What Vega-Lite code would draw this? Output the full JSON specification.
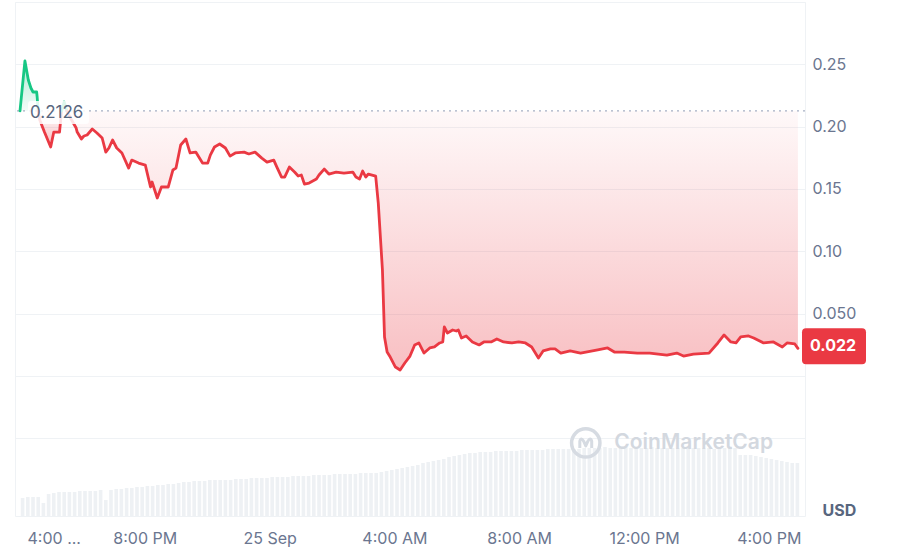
{
  "$schema": "https://vega.github.io/schema/vega-lite/v6.json",
  "width": 790,
  "height": 514,
  "autosize": "none",
  "padding": {"left": 15, "top": 2, "right": 102, "bottom": 34},
  "background": "white",
  "config": {"view": {"stroke": "#eff2f5"}, "font": "Inter"},
  "datasets": {
    "price": [
      {"m": 0, "p": 0.2126, "s": "up", "g": "a"},
      {"m": 9.5, "p": 0.2527, "s": "up", "g": "a"},
      {"m": 16, "p": 0.2374, "s": "up", "g": "a"},
      {"m": 21, "p": 0.2310, "s": "up", "g": "a"},
      {"m": 25, "p": 0.2278, "s": "up", "g": "a"},
      {"m": 32, "p": 0.2278, "s": "up", "g": "a"},
      {"m": 33, "p": 0.2238, "s": "up", "g": "a"},
      {"m": 35, "p": 0.2126, "s": "up", "g": "a"},
      {"m": 35, "p": 0.2126, "s": "down", "g": "b"},
      {"m": 38, "p": 0.2053, "s": "down", "g": "b"},
      {"m": 47, "p": 0.1957, "s": "down", "g": "b"},
      {"m": 59, "p": 0.1837, "s": "down", "g": "b"},
      {"m": 65, "p": 0.1957, "s": "down", "g": "b"},
      {"m": 76, "p": 0.1957, "s": "down", "g": "b"},
      {"m": 80, "p": 0.2126, "s": "down", "g": "b"},
      {"m": 80, "p": 0.2126, "s": "up", "g": "c"},
      {"m": 85, "p": 0.2198, "s": "up", "g": "c"},
      {"m": 90, "p": 0.2126, "s": "up", "g": "c"},
      {"m": 90, "p": 0.2126, "s": "down", "g": "d"},
      {"m": 97, "p": 0.2069, "s": "down", "g": "d"},
      {"m": 108, "p": 0.1989, "s": "down", "g": "d"},
      {"m": 110, "p": 0.1957, "s": "down", "g": "d"},
      {"m": 118, "p": 0.1901, "s": "down", "g": "d"},
      {"m": 123, "p": 0.1925, "s": "down", "g": "d"},
      {"m": 129, "p": 0.1933, "s": "down", "g": "d"},
      {"m": 139, "p": 0.1981, "s": "down", "g": "d"},
      {"m": 148, "p": 0.1949, "s": "down", "g": "d"},
      {"m": 158, "p": 0.1909, "s": "down", "g": "d"},
      {"m": 165, "p": 0.1796, "s": "down", "g": "d"},
      {"m": 171, "p": 0.1829, "s": "down", "g": "d"},
      {"m": 178, "p": 0.1893, "s": "down", "g": "d"},
      {"m": 186, "p": 0.1829, "s": "down", "g": "d"},
      {"m": 196, "p": 0.1789, "s": "down", "g": "d"},
      {"m": 209, "p": 0.1668, "s": "down", "g": "d"},
      {"m": 215, "p": 0.1732, "s": "down", "g": "d"},
      {"m": 228, "p": 0.1708, "s": "down", "g": "d"},
      {"m": 241, "p": 0.1692, "s": "down", "g": "d"},
      {"m": 251, "p": 0.1516, "s": "down", "g": "d"},
      {"m": 254, "p": 0.1556, "s": "down", "g": "d"},
      {"m": 264, "p": 0.1428, "s": "down", "g": "d"},
      {"m": 272, "p": 0.1516, "s": "down", "g": "d"},
      {"m": 285, "p": 0.1516, "s": "down", "g": "d"},
      {"m": 294, "p": 0.1652, "s": "down", "g": "d"},
      {"m": 300, "p": 0.1668, "s": "down", "g": "d"},
      {"m": 309, "p": 0.1853, "s": "down", "g": "d"},
      {"m": 319, "p": 0.1901, "s": "down", "g": "d"},
      {"m": 327, "p": 0.1789, "s": "down", "g": "d"},
      {"m": 338, "p": 0.1796, "s": "down", "g": "d"},
      {"m": 351, "p": 0.1708, "s": "down", "g": "d"},
      {"m": 361, "p": 0.1708, "s": "down", "g": "d"},
      {"m": 366, "p": 0.1772, "s": "down", "g": "d"},
      {"m": 374, "p": 0.1837, "s": "down", "g": "d"},
      {"m": 384, "p": 0.1861, "s": "down", "g": "d"},
      {"m": 395, "p": 0.1829, "s": "down", "g": "d"},
      {"m": 404, "p": 0.1764, "s": "down", "g": "d"},
      {"m": 414, "p": 0.1789, "s": "down", "g": "d"},
      {"m": 431, "p": 0.1796, "s": "down", "g": "d"},
      {"m": 440, "p": 0.1781, "s": "down", "g": "d"},
      {"m": 452, "p": 0.1796, "s": "down", "g": "d"},
      {"m": 465, "p": 0.1748, "s": "down", "g": "d"},
      {"m": 475, "p": 0.1716, "s": "down", "g": "d"},
      {"m": 488, "p": 0.1732, "s": "down", "g": "d"},
      {"m": 494, "p": 0.1676, "s": "down", "g": "d"},
      {"m": 503, "p": 0.1596, "s": "down", "g": "d"},
      {"m": 509, "p": 0.1596, "s": "down", "g": "d"},
      {"m": 518, "p": 0.1676, "s": "down", "g": "d"},
      {"m": 528, "p": 0.1636, "s": "down", "g": "d"},
      {"m": 535, "p": 0.1604, "s": "down", "g": "d"},
      {"m": 541, "p": 0.1612, "s": "down", "g": "d"},
      {"m": 547, "p": 0.1540, "s": "down", "g": "d"},
      {"m": 556, "p": 0.1548, "s": "down", "g": "d"},
      {"m": 570, "p": 0.1580, "s": "down", "g": "d"},
      {"m": 575, "p": 0.1612, "s": "down", "g": "d"},
      {"m": 585, "p": 0.1660, "s": "down", "g": "d"},
      {"m": 594, "p": 0.1620, "s": "down", "g": "d"},
      {"m": 608, "p": 0.1636, "s": "down", "g": "d"},
      {"m": 623, "p": 0.1628, "s": "down", "g": "d"},
      {"m": 640, "p": 0.1636, "s": "down", "g": "d"},
      {"m": 646, "p": 0.1596, "s": "down", "g": "d"},
      {"m": 653, "p": 0.1580, "s": "down", "g": "d"},
      {"m": 659, "p": 0.1644, "s": "down", "g": "d"},
      {"m": 665, "p": 0.1596, "s": "down", "g": "d"},
      {"m": 670, "p": 0.1620, "s": "down", "g": "d"},
      {"m": 684, "p": 0.1604, "s": "down", "g": "d"},
      {"m": 689, "p": 0.1387, "s": "down", "g": "d"},
      {"m": 697, "p": 0.0850, "s": "down", "g": "d"},
      {"m": 701, "p": 0.0313, "s": "down", "g": "d"},
      {"m": 706, "p": 0.0192, "s": "down", "g": "d"},
      {"m": 712, "p": 0.0152, "s": "down", "g": "d"},
      {"m": 722, "p": 0.0072, "s": "down", "g": "d"},
      {"m": 731, "p": 0.0048, "s": "down", "g": "d"},
      {"m": 740, "p": 0.0104, "s": "down", "g": "d"},
      {"m": 750, "p": 0.0160, "s": "down", "g": "d"},
      {"m": 759, "p": 0.0249, "s": "down", "g": "d"},
      {"m": 767, "p": 0.0265, "s": "down", "g": "d"},
      {"m": 777, "p": 0.0184, "s": "down", "g": "d"},
      {"m": 788, "p": 0.0225, "s": "down", "g": "d"},
      {"m": 797, "p": 0.0233, "s": "down", "g": "d"},
      {"m": 807, "p": 0.0265, "s": "down", "g": "d"},
      {"m": 813, "p": 0.0273, "s": "down", "g": "d"},
      {"m": 816, "p": 0.0393, "s": "down", "g": "d"},
      {"m": 822, "p": 0.0345, "s": "down", "g": "d"},
      {"m": 832, "p": 0.0369, "s": "down", "g": "d"},
      {"m": 839, "p": 0.0361, "s": "down", "g": "d"},
      {"m": 843, "p": 0.0369, "s": "down", "g": "d"},
      {"m": 849, "p": 0.0305, "s": "down", "g": "d"},
      {"m": 858, "p": 0.0321, "s": "down", "g": "d"},
      {"m": 870, "p": 0.0273, "s": "down", "g": "d"},
      {"m": 883, "p": 0.0249, "s": "down", "g": "d"},
      {"m": 892, "p": 0.0273, "s": "down", "g": "d"},
      {"m": 906, "p": 0.0273, "s": "down", "g": "d"},
      {"m": 917, "p": 0.0297, "s": "down", "g": "d"},
      {"m": 930, "p": 0.0273, "s": "down", "g": "d"},
      {"m": 946, "p": 0.0265, "s": "down", "g": "d"},
      {"m": 959, "p": 0.0273, "s": "down", "g": "d"},
      {"m": 972, "p": 0.0265, "s": "down", "g": "d"},
      {"m": 984, "p": 0.0233, "s": "down", "g": "d"},
      {"m": 997, "p": 0.0144, "s": "down", "g": "d"},
      {"m": 1006, "p": 0.0201, "s": "down", "g": "d"},
      {"m": 1020, "p": 0.0217, "s": "down", "g": "d"},
      {"m": 1029, "p": 0.0217, "s": "down", "g": "d"},
      {"m": 1040, "p": 0.0184, "s": "down", "g": "d"},
      {"m": 1058, "p": 0.0201, "s": "down", "g": "d"},
      {"m": 1078, "p": 0.0184, "s": "down", "g": "d"},
      {"m": 1111, "p": 0.0209, "s": "down", "g": "d"},
      {"m": 1130, "p": 0.0225, "s": "down", "g": "d"},
      {"m": 1143, "p": 0.0192, "s": "down", "g": "d"},
      {"m": 1162, "p": 0.0192, "s": "down", "g": "d"},
      {"m": 1187, "p": 0.0184, "s": "down", "g": "d"},
      {"m": 1211, "p": 0.0184, "s": "down", "g": "d"},
      {"m": 1244, "p": 0.0168, "s": "down", "g": "d"},
      {"m": 1263, "p": 0.0184, "s": "down", "g": "d"},
      {"m": 1276, "p": 0.0160, "s": "down", "g": "d"},
      {"m": 1295, "p": 0.0176, "s": "down", "g": "d"},
      {"m": 1325, "p": 0.0184, "s": "down", "g": "d"},
      {"m": 1342, "p": 0.0265, "s": "down", "g": "d"},
      {"m": 1354, "p": 0.0329, "s": "down", "g": "d"},
      {"m": 1367, "p": 0.0273, "s": "down", "g": "d"},
      {"m": 1377, "p": 0.0265, "s": "down", "g": "d"},
      {"m": 1386, "p": 0.0313, "s": "down", "g": "d"},
      {"m": 1401, "p": 0.0321, "s": "down", "g": "d"},
      {"m": 1411, "p": 0.0305, "s": "down", "g": "d"},
      {"m": 1430, "p": 0.0265, "s": "down", "g": "d"},
      {"m": 1449, "p": 0.0273, "s": "down", "g": "d"},
      {"m": 1466, "p": 0.0233, "s": "down", "g": "d"},
      {"m": 1475, "p": 0.0265, "s": "down", "g": "d"},
      {"m": 1490, "p": 0.0257, "s": "down", "g": "d"},
      {"m": 1496, "p": 0.0222, "s": "down", "g": "d"}
    ],
    "vol": [
      {"m": 5, "v": 270}, {"m": 15, "v": 285}, {"m": 25, "v": 285}, {"m": 35, "v": 285},
      {"m": 45, "v": 195}, {"m": 55, "v": 330}, {"m": 65, "v": 345}, {"m": 75, "v": 360},
      {"m": 85, "v": 360}, {"m": 95, "v": 360}, {"m": 105, "v": 360}, {"m": 115, "v": 375},
      {"m": 125, "v": 375}, {"m": 135, "v": 375}, {"m": 145, "v": 375}, {"m": 155, "v": 390},
      {"m": 165, "v": 240}, {"m": 175, "v": 390}, {"m": 185, "v": 405}, {"m": 195, "v": 405},
      {"m": 205, "v": 420}, {"m": 215, "v": 420}, {"m": 225, "v": 435}, {"m": 235, "v": 435},
      {"m": 245, "v": 450}, {"m": 255, "v": 450}, {"m": 265, "v": 465}, {"m": 275, "v": 465},
      {"m": 285, "v": 480}, {"m": 295, "v": 480}, {"m": 305, "v": 495}, {"m": 315, "v": 510},
      {"m": 325, "v": 510}, {"m": 335, "v": 525}, {"m": 345, "v": 525}, {"m": 355, "v": 525},
      {"m": 365, "v": 540}, {"m": 375, "v": 540}, {"m": 385, "v": 540}, {"m": 395, "v": 540},
      {"m": 405, "v": 540}, {"m": 415, "v": 555}, {"m": 425, "v": 555}, {"m": 435, "v": 555},
      {"m": 445, "v": 570}, {"m": 455, "v": 570}, {"m": 465, "v": 570}, {"m": 475, "v": 570},
      {"m": 485, "v": 585}, {"m": 495, "v": 585}, {"m": 505, "v": 585}, {"m": 515, "v": 585},
      {"m": 525, "v": 600}, {"m": 535, "v": 600}, {"m": 545, "v": 600}, {"m": 555, "v": 600},
      {"m": 565, "v": 615}, {"m": 575, "v": 615}, {"m": 585, "v": 615}, {"m": 595, "v": 615},
      {"m": 605, "v": 630}, {"m": 615, "v": 630}, {"m": 625, "v": 630}, {"m": 635, "v": 630},
      {"m": 645, "v": 630}, {"m": 655, "v": 645}, {"m": 665, "v": 645}, {"m": 675, "v": 645},
      {"m": 685, "v": 645}, {"m": 695, "v": 660}, {"m": 705, "v": 675}, {"m": 715, "v": 690},
      {"m": 725, "v": 705}, {"m": 735, "v": 720}, {"m": 745, "v": 735}, {"m": 755, "v": 750},
      {"m": 765, "v": 765}, {"m": 775, "v": 795}, {"m": 785, "v": 810}, {"m": 795, "v": 825},
      {"m": 805, "v": 840}, {"m": 815, "v": 855}, {"m": 825, "v": 885}, {"m": 835, "v": 900},
      {"m": 845, "v": 915}, {"m": 855, "v": 930}, {"m": 865, "v": 945}, {"m": 875, "v": 945},
      {"m": 885, "v": 960}, {"m": 895, "v": 960}, {"m": 905, "v": 960}, {"m": 915, "v": 975},
      {"m": 925, "v": 975}, {"m": 935, "v": 975}, {"m": 945, "v": 975}, {"m": 955, "v": 975},
      {"m": 965, "v": 990}, {"m": 975, "v": 990}, {"m": 985, "v": 990}, {"m": 995, "v": 990},
      {"m": 1005, "v": 990}, {"m": 1015, "v": 1005}, {"m": 1025, "v": 1005}, {"m": 1035, "v": 1005},
      {"m": 1045, "v": 1005}, {"m": 1055, "v": 1005}, {"m": 1065, "v": 1005}, {"m": 1075, "v": 1005},
      {"m": 1085, "v": 1020}, {"m": 1095, "v": 1020}, {"m": 1105, "v": 1020}, {"m": 1115, "v": 1020},
      {"m": 1125, "v": 1035}, {"m": 1135, "v": 1020}, {"m": 1145, "v": 1020}, {"m": 1155, "v": 1020},
      {"m": 1165, "v": 1035}, {"m": 1175, "v": 1020}, {"m": 1185, "v": 1020}, {"m": 1195, "v": 1020},
      {"m": 1205, "v": 1020}, {"m": 1215, "v": 1035}, {"m": 1225, "v": 1020}, {"m": 1235, "v": 1020},
      {"m": 1245, "v": 1020}, {"m": 1255, "v": 1020}, {"m": 1265, "v": 1020}, {"m": 1275, "v": 1020},
      {"m": 1285, "v": 1035}, {"m": 1295, "v": 1020}, {"m": 1305, "v": 1020}, {"m": 1315, "v": 1020},
      {"m": 1325, "v": 1020}, {"m": 1335, "v": 1005}, {"m": 1345, "v": 1020}, {"m": 1355, "v": 1020},
      {"m": 1365, "v": 1020}, {"m": 1375, "v": 1020}, {"m": 1385, "v": 915}, {"m": 1395, "v": 915},
      {"m": 1405, "v": 915}, {"m": 1415, "v": 900}, {"m": 1425, "v": 885}, {"m": 1435, "v": 870},
      {"m": 1445, "v": 855}, {"m": 1455, "v": 840}, {"m": 1465, "v": 825}, {"m": 1475, "v": 810},
      {"m": 1485, "v": 795}, {"m": 1495, "v": 795}
    ]
  },
  "layer": [
    {
      "data": {"name": "vol"},
      "mark": {"type": "bar", "size": 3.6, "color": "#eef1f4"},
      "encoding": {
        "x": {
          "field": "m",
          "type": "quantitative",
          "title": null,
          "scale": {"domain": [0, 1500], "nice": false, "zero": false},
          "axis": {
            "values": [0, 240, 480, 720, 960, 1200, 1440],
            "labelExpr": "['4:00 ...', '8:00 PM', '25 Sep', '4:00 AM', '8:00 AM', '12:00 PM', '4:00 PM'][datum.value / 240]",
            "grid": false,
            "ticks": false,
            "domain": false,
            "labelPadding": 14,
            "labelFont": "Inter",
            "labelFontSize": 16,
            "labelColor": "#6b7690",
            "labelFlush": false,
            "labelAlign": {"condition": {"test": "datum.value == 0", "value": "left"}, "value": "center"},
            "labelOffset": {"condition": {"test": "datum.value == 0", "value": 7}, "value": 0}
          }
        },
        "y": {
          "field": "v",
          "type": "quantitative",
          "scale": {"domain": [0, 7710], "nice": false},
          "axis": null
        }
      }
    },
    {
      "layer": [
        {
          "data": {"name": "price"},
          "transform": [{"filter": "datum.s == 'down'"}],
          "mark": {
            "type": "area",
            "color": {
              "gradient": "linear",
              "x1": 0, "y1": 0, "x2": 0, "y2": 1,
              "stops": [
                {"offset": 0, "color": "rgba(234,57,67,0.03)"},
                {"offset": 1, "color": "rgba(234,57,67,0.32)"}
              ]
            }
          },
          "encoding": {
            "x": {"field": "m", "type": "quantitative", "title": null},
            "y": {
              "field": "p",
              "type": "quantitative",
              "title": "USD",
              "scale": {"domain": [-0.1123, 0.3], "nice": false, "zero": false},
              "axis": {
                "orient": "right",
                "values": [-0.05, 0, 0.05, 0.1, 0.15, 0.2, 0.25, 0.3],
                "labelExpr": "datum.value == 0.05 ? '0.050' : (datum.value >= 0.1 && datum.value <= 0.25 ? format(datum.value, '.2f') : '')",
                "grid": true,
                "gridColor": "#eff2f5",
                "ticks": false,
                "domain": false,
                "labelPadding": 7,
                "labelFont": "Inter",
                "labelFontSize": 16,
                "labelColor": "#6b7690",
                "titleAngle": 0,
                "titleX": 17,
                "titleY": 508,
                "titleAlign": "left",
                "titleBaseline": "middle",
                "titleFont": "Inter",
                "titleFontSize": 16,
                "titleFontWeight": "bold",
                "titleColor": "#58667e"
              }
            },
            "y2": {"datum": 0.2126},
            "detail": {"field": "g"}
          }
        },
        {
          "data": {"name": "price"},
          "transform": [{"filter": "datum.s == 'up'"}],
          "mark": {
            "type": "area",
            "color": {
              "gradient": "linear",
              "x1": 0, "y1": 0, "x2": 0, "y2": 1,
              "stops": [
                {"offset": 0, "color": "rgba(22,199,132,0.35)"},
                {"offset": 1, "color": "rgba(22,199,132,0.05)"}
              ]
            }
          },
          "encoding": {
            "x": {"field": "m", "type": "quantitative", "title": null},
            "y": {"field": "p", "type": "quantitative", "title": "USD"},
            "y2": {"datum": 0.2126},
            "detail": {"field": "g"}
          }
        },
        {
          "data": {"values": [{}]},
          "mark": {"type": "rule", "color": "#a6b0c3", "strokeWidth": 1.2, "strokeDash": [2, 4]},
          "encoding": {"y": {"datum": 0.2126, "type": "quantitative"}}
        },
        {
          "data": {"name": "price"},
          "mark": {"type": "line", "strokeWidth": 2.8, "strokeJoin": "round", "strokeCap": "round"},
          "encoding": {
            "x": {"field": "m", "type": "quantitative", "title": null},
            "y": {"field": "p", "type": "quantitative", "title": "USD"},
            "color": {
              "field": "s",
              "type": "nominal",
              "scale": {"domain": ["down", "up"], "range": ["#ea3943", "#16c784"]},
              "legend": null
            },
            "detail": {"field": "g"}
          }
        },
        {
          "data": {"values": [{}]},
          "mark": {
            "type": "point",
            "shape": "M-0.9,-0.377 L0.9,-0.377 Q1,-0.377 1,-0.277 L1,0.277 Q1,0.377 0.9,0.377 L-0.9,0.377 Q-1,0.377 -1,0.277 L-1,-0.277 Q-1,-0.377 -0.9,-0.377 Z",
            "size": 3721,
            "filled": true,
            "fill": "white",
            "strokeWidth": 0,
            "opacity": 0.85,
            "xOffset": 38.5,
            "yOffset": 1.5
          },
          "encoding": {
            "x": {"datum": 0, "type": "quantitative"},
            "y": {"datum": 0.2126, "type": "quantitative"}
          }
        },
        {
          "data": {"values": [{}]},
          "mark": {
            "type": "text",
            "text": "0.2126",
            "align": "left",
            "baseline": "middle",
            "dx": 10,
            "dy": 2,
            "font": "Inter",
            "fontSize": 17,
            "color": "#58667e"
          },
          "encoding": {
            "x": {"datum": 0, "type": "quantitative"},
            "y": {"datum": 0.2126, "type": "quantitative"}
          }
        },
        {
          "data": {"values": [{}]},
          "mark": {
            "type": "point",
            "shape": "M-0.875,-0.5625 L0.875,-0.5625 Q1,-0.5625 1,-0.4375 L1,0.4375 Q1,0.5625 0.875,0.5625 L-0.875,0.5625 Q-1,0.5625 -1,0.4375 L-1,-0.4375 Q-1,-0.5625 -0.875,-0.5625 Z",
            "size": 4096,
            "filled": true,
            "fill": "#ea3943",
            "strokeWidth": 0,
            "opacity": 1,
            "xOffset": 34,
            "yOffset": -2
          },
          "encoding": {
            "x": {"datum": 1500, "type": "quantitative"},
            "y": {"datum": 0.0222, "type": "quantitative"}
          }
        },
        {
          "data": {"values": [{}]},
          "mark": {
            "type": "text",
            "text": "0.022",
            "align": "center",
            "baseline": "middle",
            "dx": 33,
            "dy": -2,
            "font": "Inter",
            "fontSize": 16,
            "fontWeight": "bold",
            "color": "white"
          },
          "encoding": {
            "x": {"datum": 1500, "type": "quantitative"},
            "y": {"datum": 0.0222, "type": "quantitative"}
          }
        },
        {
          "data": {"values": [{}]},
          "mark": {
            "type": "point",
            "shape": "circle",
            "size": 804,
            "filled": false,
            "stroke": "#d6dbe2",
            "strokeWidth": 3.5,
            "opacity": 1
          },
          "encoding": {
            "x": {"datum": 1088, "type": "quantitative"},
            "y": {"datum": -0.0537, "type": "quantitative"}
          }
        },
        {
          "data": {"values": [{}]},
          "mark": {
            "type": "point",
            "shape": "M-0.7,0.6 L-0.7,-0.2 Q-0.55,-0.7 -0.25,-0.2 L0,0.35 L0.25,-0.2 Q0.55,-0.7 0.7,-0.2 L0.7,0.6",
            "size": 289,
            "filled": false,
            "stroke": "#d6dbe2",
            "strokeWidth": 3,
            "strokeJoin": "round",
            "opacity": 1
          },
          "encoding": {
            "x": {"datum": 1088, "type": "quantitative"},
            "y": {"datum": -0.0537, "type": "quantitative"}
          }
        },
        {
          "data": {"values": [{}]},
          "mark": {
            "type": "text",
            "text": "CoinMarketCap",
            "align": "left",
            "baseline": "middle",
            "font": "Inter",
            "fontSize": 21,
            "fontWeight": 600,
            "color": "#d3d8df"
          },
          "encoding": {
            "x": {"datum": 1143, "type": "quantitative"},
            "y": {"datum": -0.0537, "type": "quantitative"}
          }
        }
      ]
    }
  ],
  "resolve": {"scale": {"y": "independent"}}
}
